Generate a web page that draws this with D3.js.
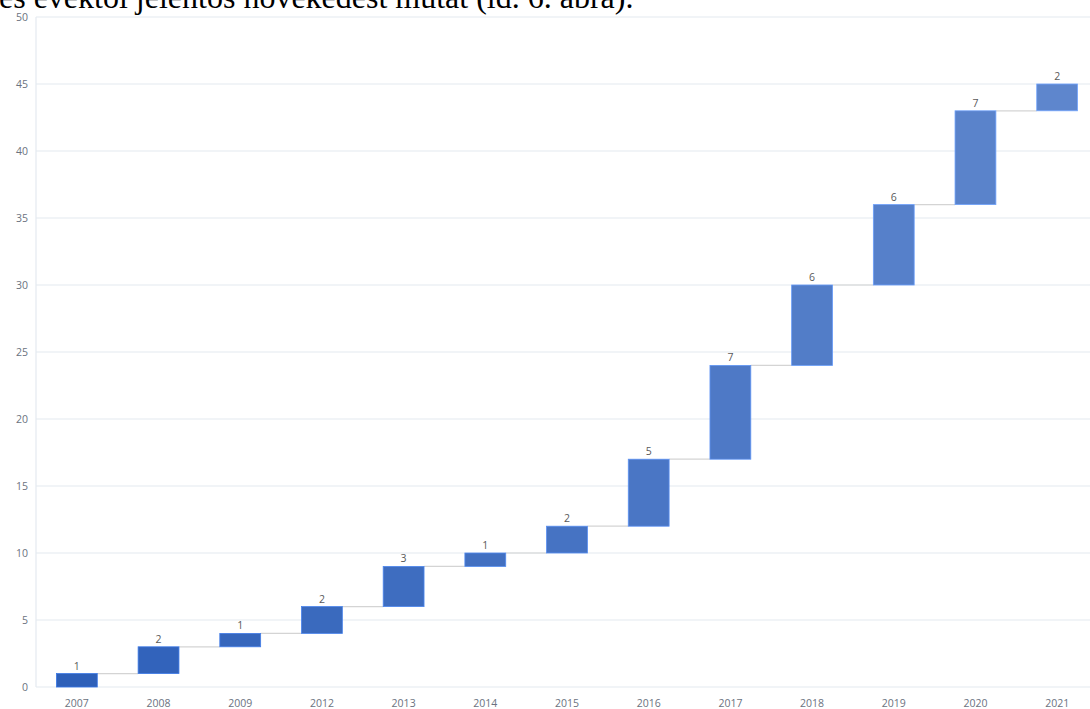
<!DOCTYPE html>
<html>
<head>
<meta charset="utf-8">
<script src="https://cdn.jsdelivr.net/npm/d3@7"></script>
<style>
  html, body { margin: 0; padding: 0; background: #ffffff; }
  svg { display: block; }
</style>
</head>
<body>
<svg id="chart" width="1090" height="709"></svg>
<script>
// Yearly increments shown as a waterfall
const years = ["2007", "2008", "2009", "2012", "2013", "2014", "2015", "2016", "2017", "2018", "2019", "2020", "2021"];
const increments = [1, 2, 1, 2, 3, 1, 2, 5, 7, 6, 6, 7, 2];
const yTicks = [0, 5, 10, 15, 20, 25, 30, 35, 40, 45, 50];
const captionText = "és évektől jelentős növekedést mutat (ld. 6. ábra).";

const svg = d3.select("#chart");
const W = 1090, H = 709;
const plot = { left: 36, right: 1098, top: 17, bottom: 687 };

// running totals: each bar spans [start, end]
let acc = 0;
const steps = years.map((yr, i) => {
  const start = acc;
  acc += increments[i];
  return { year: yr, value: increments[i], start, end: acc, i };
});

const x = d3.scaleBand()
  .domain(years)
  .range([plot.left, plot.right])
  .paddingInner(0.5)
  .paddingOuter(0.25);

const y = d3.scaleLinear()
  .domain([0, 50])
  .range([plot.bottom, plot.top]);

const color = d3.scaleLinear()
  .domain([0, years.length - 1])
  .range(["#2e60b9", "#5e86cd"])
  .interpolate(d3.interpolateRgb);

// trailing line of the surrounding paragraph
svg.append("text")
  .attr("x", -1)
  .attr("y", 8)
  .attr("font-family", "'Liberation Serif', 'Times New Roman', serif")
  .attr("font-size", 32)
  .attr("fill", "#000")
  .text(captionText);

// horizontal gridlines
svg.append("g")
  .selectAll("line")
  .data(yTicks)
  .join("line")
  .attr("x1", plot.left)
  .attr("x2", W)
  .attr("y1", d => y(d))
  .attr("y2", d => y(d))
  .attr("stroke", "#e4e9f0")
  .attr("stroke-width", 1.2);

// left axis line
svg.append("line")
  .attr("x1", plot.left).attr("x2", plot.left)
  .attr("y1", y(50)).attr("y2", y(0))
  .attr("stroke", "#e4e9f0")
  .attr("stroke-width", 1.2);

// y tick labels
const yAxis = d3.axisLeft(y).tickValues(yTicks).tickSize(0).tickPadding(8);
const gy = svg.append("g")
  .attr("transform", `translate(${plot.left},0)`)
  .call(yAxis);
gy.select(".domain").remove();
gy.selectAll("text")
  .attr("font-family", "'Open Sans', 'DejaVu Sans', sans-serif")
  .attr("font-size", 10.5)
  .attr("fill", "#6b7280");

// x tick labels
const xAxis = d3.axisBottom(x).tickSize(0).tickPadding(13);
const gx = svg.append("g")
  .attr("transform", `translate(0,${plot.bottom})`)
  .call(xAxis);
gx.select(".domain").remove();
gx.selectAll("text")
  .attr("font-family", "'Open Sans', 'DejaVu Sans', sans-serif")
  .attr("font-size", 10.5)
  .attr("fill", "#6b7280");

// connector lines between consecutive bars
svg.append("g")
  .selectAll("line")
  .data(steps.slice(0, -1))
  .join("line")
  .attr("x1", d => x(d.year) + x.bandwidth())
  .attr("x2", d => x(years[d.i + 1]))
  .attr("y1", d => y(d.end))
  .attr("y2", d => y(d.end))
  .attr("stroke", "#d4d4d4")
  .attr("stroke-width", 1.2);

// bars
svg.append("g")
  .selectAll("rect")
  .data(steps)
  .join("rect")
  .attr("x", d => x(d.year))
  .attr("width", x.bandwidth())
  .attr("y", d => y(d.end))
  .attr("height", d => y(d.start) - y(d.end))
  .attr("fill", d => color(d.i))
  .attr("stroke", d => d3.color(color(d.i)).brighter(0.6))
  .attr("stroke-width", 0.8);

// value labels
svg.append("g")
  .selectAll("text")
  .data(steps)
  .join("text")
  .attr("x", d => x(d.year) + x.bandwidth() / 2)
  .attr("y", d => y(d.end) - 4)
  .attr("text-anchor", "middle")
  .attr("font-family", "'Open Sans', 'DejaVu Sans', sans-serif")
  .attr("font-size", 10.5)
  .attr("fill", "#595959")
  .text(d => d.value);
</script>
</body>
</html>
